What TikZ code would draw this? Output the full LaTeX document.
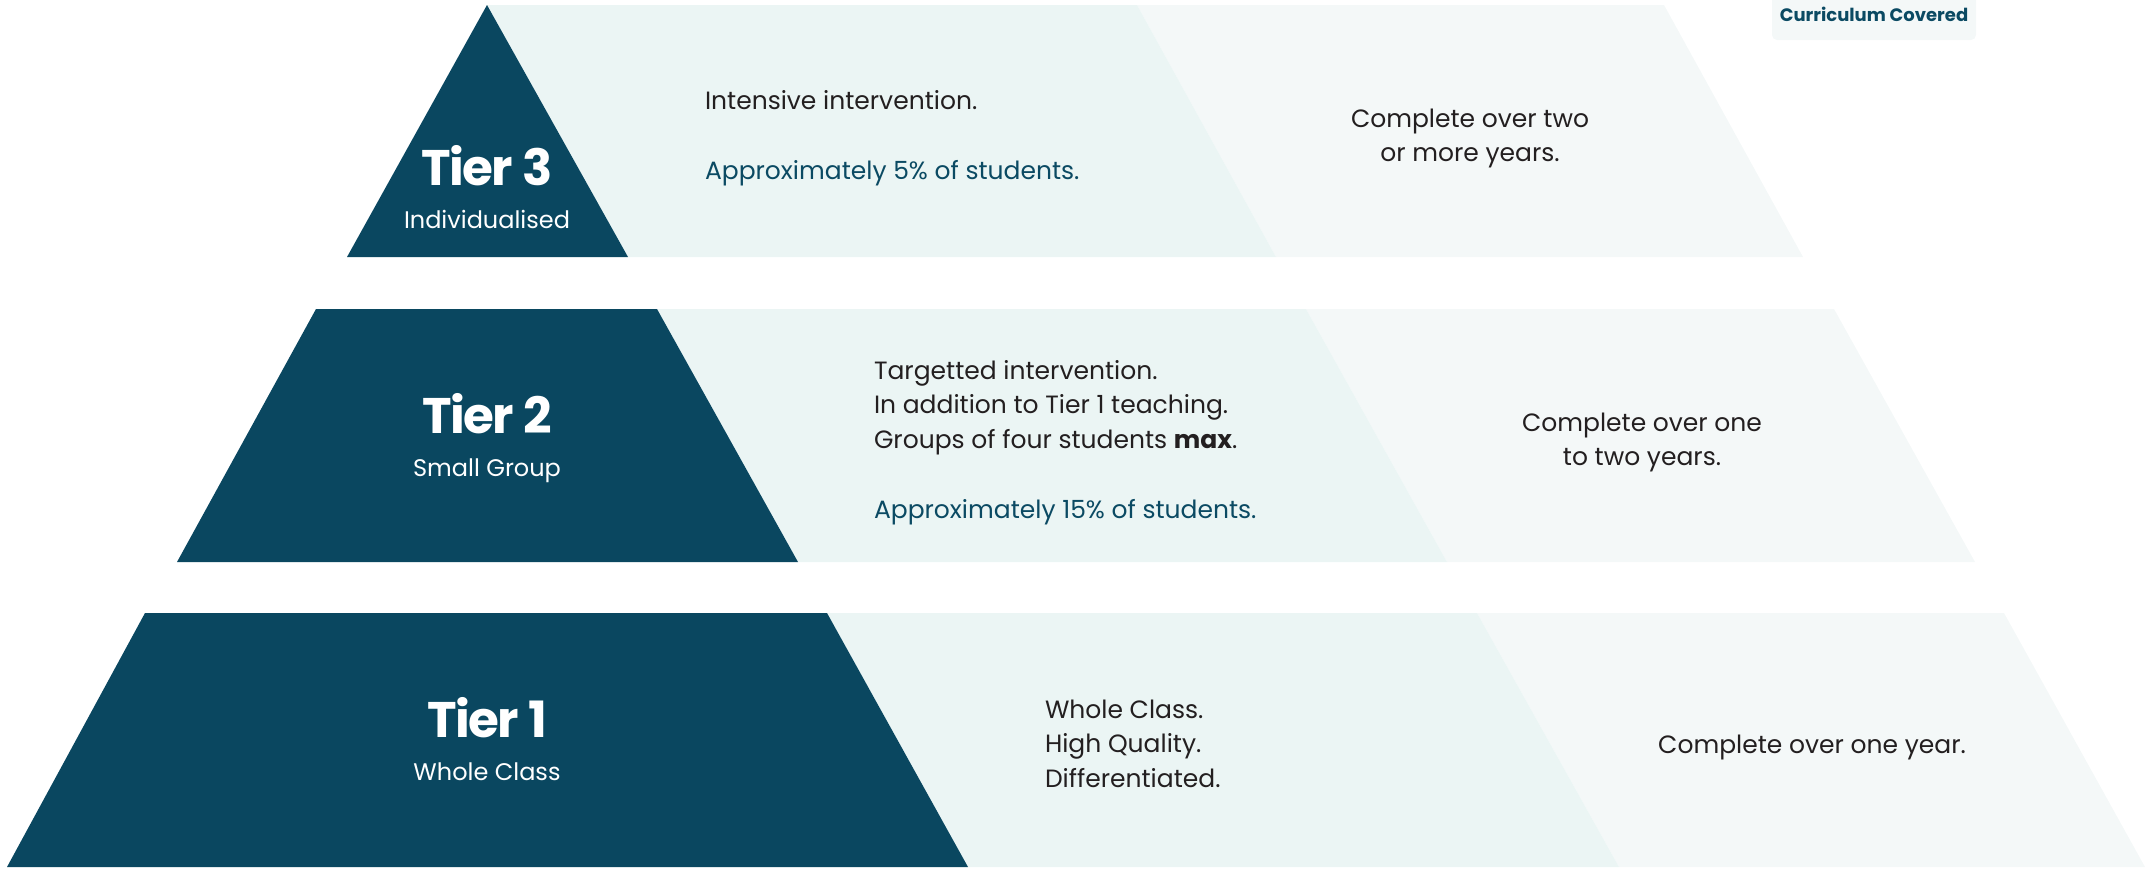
\documentclass[tikz,border=0pt]{standalone}
\usepackage{fontspec}
\setmainfont{Poppins}
\definecolor{dark}{HTML}{0A4760}
\definecolor{lightA}{HTML}{EBF5F4}
\definecolor{lightB}{HTML}{F4F8F8}
\definecolor{txt}{HTML}{231F20}
\definecolor{tealtxt}{HTML}{0B4A63}
\begin{document}
\begin{tikzpicture}[x=1pt,y=-1pt,
  every node/.style={inner sep=0pt,outer sep=0pt},
  body/.style={font=\fontsize{25}{34}\selectfont,text=txt,anchor=base west},
  bodyc/.style={font=\fontsize{25}{34}\selectfont,text=txt,anchor=base},
  pct/.style={font=\fontsize{25}{34}\selectfont,text=tealtxt,anchor=base west},
  tier/.style={font=\fontsize{50}{60}\selectfont\bfseries\addfontfeature{LetterSpace=-3},text=white,anchor=base},
  tiersub/.style={font=\fontsize{24}{28}\selectfont,text=white,anchor=base},
  darkshape/.style={fill=dark},
  bandA/.style={fill=lightA},
  bandB/.style={fill=lightB}]
\useasboundingbox (0,0) rectangle (2151,868);

% ---------- Curriculum Covered tab
\fill[bandB,rounded corners=5pt] (1772,-10) rectangle (1976,40);
\node[font=\fontsize{18}{22}\selectfont\bfseries,text=tealtxt,anchor=base] (cc) at (1874,21.7) {Curriculum Covered};

% ---------- Tier 3
\fill[bandB] (1137,5) -- (1664,5) -- (1803,257) -- (1276,257) -- cycle;
\fill[bandA] (487,5) -- (1137,5) -- (1276,257) -- (628,257) -- cycle;
\fill[darkshape] (347,257) -- (487,5) -- (628,257) -- cycle;
\node[tier] (t3) at (487,185) {Tier 3};
\node[tiersub] (t3s) at (487,228) {Individualised};
\node[body] (t3a) at (705,109) {Intensive intervention.};
\node[pct] (t3b) at (705,179) {Approximately 5\% of students.};
\node[bodyc] (t3c) at (1470,127) {Complete over two};
\node[bodyc] (t3d) at (1470,161.5) {or more years.};

% ---------- Tier 2
\fill[bandB] (1306,309) -- (1834,309) -- (1975,562) -- (1447,562) -- cycle;
\fill[bandA] (657,309) -- (1306,309) -- (1447,562) -- (798,562) -- cycle;
\fill[darkshape] (316,309) -- (657,309) -- (798,562) -- (177,562) -- cycle;
\node[tier] (t2) at (487,433) {Tier 2};
\node[tiersub] (t2s) at (487,476) {Small Group};
\node[body] (t2a) at (874,379) {Targetted intervention.};
\node[body] (t2b) at (874,413.5) {In addition to Tier 1 teaching.};
\node[body] (t2c) at (874,448) {Groups of four students \textbf{max}.};
\node[pct] (t2d) at (874,518) {Approximately 15\% of students.};
\node[bodyc] (t2e) at (1642,431.5) {Complete over one};
\node[bodyc] (t2f) at (1642,465) {to two years.};

% ---------- Tier 1
\fill[bandB] (1477,613) -- (2004,613) -- (2145,867) -- (1619,867) -- cycle;
\fill[bandA] (827,613) -- (1477,613) -- (1619,867) -- (968,867) -- cycle;
\fill[darkshape] (145,613) -- (827,613) -- (968,867) -- (7,867) -- cycle;
\node[tier] (t1) at (487,737) {Tier 1};
\node[tiersub] (t1s) at (487,780) {Whole Class};
\node[body] (t1a) at (1045,718) {Whole Class.};
\node[body] (t1b) at (1045,752.5) {High Quality.};
\node[body] (t1c) at (1045,787) {Differentiated.};
\node[bodyc] (t1d) at (1812,753) {Complete over one year.};
\end{tikzpicture}
\end{document}
